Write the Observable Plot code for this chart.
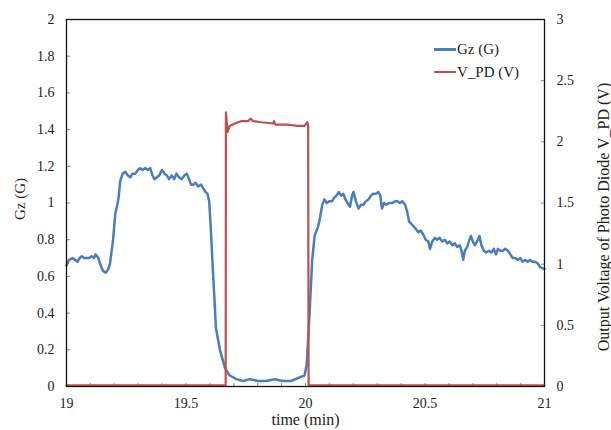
<!DOCTYPE html>
<html>
<head>
<meta charset="utf-8">
<script src="https://cdn.jsdelivr.net/npm/d3@7"></script>
<script src="https://cdn.jsdelivr.net/npm/@observablehq/plot@0.6"></script>
<style>
  body { margin: 0; background: white; }
  #wrap { position: relative; width: 611px; height: 430px; font-family: "Liberation Serif", serif; }
  #legend { position: absolute; left: 434px; top: 38px; font-size: 15px; color: #222; line-height: 22.5px; }
  #legend .item { display: flex; align-items: center; }
  #legend .sw { display: inline-block; width: 22px; height: 2.5px; margin-right: 1px; }
</style>
</head>
<body>
<div id="wrap"></div>
<script>
// Gz (G) series
const gzTime = [19.000,19.011,19.025,19.036,19.046,19.055,19.064,19.074,19.083,19.095,19.105,19.115,19.122,19.133,19.143,19.153,19.164,19.175,19.182,19.189,19.195,19.204,19.214,19.218,19.225,19.235,19.246,19.257,19.267,19.276,19.288,19.299,19.308,19.318,19.329,19.340,19.350,19.360,19.368,19.378,19.388,19.399,19.410,19.420,19.429,19.440,19.451,19.460,19.471,19.482,19.493,19.503,19.513,19.521,19.530,19.540,19.551,19.563,19.572,19.582,19.590,19.597,19.603,19.611,19.621,19.625,19.642,19.663,19.683,19.711,19.739,19.767,19.801,19.836,19.871,19.905,19.940,19.975,19.996,20.005,20.017,20.028,20.038,20.052,20.058,20.070,20.079,20.089,20.100,20.111,20.121,20.130,20.139,20.149,20.158,20.167,20.176,20.186,20.195,20.201,20.211,20.222,20.232,20.242,20.253,20.264,20.274,20.283,20.295,20.305,20.313,20.320,20.329,20.339,20.350,20.364,20.375,20.385,20.395,20.405,20.417,20.426,20.433,20.447,20.461,20.472,20.482,20.492,20.503,20.514,20.521,20.530,20.542,20.551,20.561,20.572,20.583,20.593,20.603,20.614,20.625,20.635,20.645,20.653,20.660,20.667,20.676,20.686,20.692,20.700,20.708,20.718,20.728,20.736,20.746,20.755,20.767,20.778,20.788,20.797,20.805,20.815,20.825,20.836,20.847,20.857,20.867,20.878,20.889,20.899,20.908,20.920,20.930,20.940,20.950,20.961,20.972,20.982,21.000];
const gzValue = [0.66,0.69,0.70,0.69,0.68,0.70,0.71,0.70,0.70,0.70,0.71,0.70,0.72,0.70,0.66,0.63,0.62,0.64,0.67,0.74,0.80,0.94,1.00,1.03,1.12,1.16,1.17,1.15,1.14,1.16,1.16,1.18,1.19,1.18,1.19,1.18,1.19,1.15,1.13,1.14,1.15,1.18,1.16,1.15,1.13,1.15,1.13,1.16,1.14,1.13,1.15,1.16,1.13,1.10,1.10,1.11,1.09,1.10,1.08,1.06,1.05,1.01,0.88,0.67,0.43,0.32,0.20,0.10,0.06,0.04,0.03,0.04,0.03,0.03,0.04,0.03,0.03,0.05,0.06,0.12,0.40,0.69,0.82,0.87,0.90,0.99,1.02,1.00,1.01,1.01,1.03,1.04,1.06,1.04,1.05,1.02,1.00,0.98,1.04,1.06,1.01,0.97,0.99,0.99,1.01,1.02,1.04,1.05,1.05,1.06,1.04,0.97,1.00,0.99,1.00,1.00,1.01,1.01,1.00,1.01,0.99,0.95,0.90,0.88,0.86,0.84,0.85,0.83,0.80,0.79,0.75,0.79,0.81,0.80,0.81,0.79,0.80,0.78,0.79,0.77,0.78,0.76,0.77,0.74,0.69,0.74,0.76,0.80,0.82,0.79,0.77,0.79,0.82,0.77,0.74,0.73,0.74,0.73,0.75,0.72,0.75,0.74,0.74,0.75,0.74,0.72,0.70,0.70,0.69,0.70,0.68,0.69,0.68,0.69,0.68,0.68,0.67,0.65,0.64];

// V_PD (V) series
const vTime = [19.000,19.666,19.667,19.674,19.683,19.704,19.732,19.760,19.771,19.780,19.815,19.864,19.868,19.874,19.926,19.968,19.996,20.007,20.011,20.013,21.000];
const vValue = [0.01,0.01,2.24,2.08,2.13,2.15,2.17,2.17,2.19,2.17,2.16,2.15,2.17,2.14,2.14,2.13,2.13,2.16,2.14,0.01,0.01];

// axes
const xTicks = [19, 19.5, 20, 20.5, 21];
const xMinorTicks = d3.range(190, 211).map(d => d / 10);
const gzTicks = [0, 0.2, 0.4, 0.6, 0.8, 1, 1.2, 1.4, 1.6, 1.8, 2];
const vTicks = [0, 0.5, 1, 1.5, 2, 2.5, 3];
const gzMax = 2, vMax = 3;
const ratio = gzMax / vMax; // secondary axis mapped onto primary

const gz = gzTime.map((t, i) => ({t, v: gzValue[i]}));
const vpd = vTime.map((t, i) => ({t, v: vValue[i] * ratio}));

const fmt = d => String(+(+d).toFixed(3));
const ink = "#222";
const font = "Liberation Serif";

const chart = Plot.plot({
  width: 611, height: 430,
  marginLeft: 66, marginRight: 67, marginTop: 19, marginBottom: 44,
  style: {fontFamily: font, background: "white", color: ink},
  x: {domain: [19, 21]},
  y: {domain: [0, gzMax]},
  marks: [
    // inward ticks
    Plot.axisX(xMinorTicks, {tickSize: -3, text: null, label: null, stroke: "#888"}),
    Plot.axisY(gzTicks, {tickSize: -4, text: null, label: null, stroke: "#888"}),
    Plot.axisY(vTicks.map(v => v * ratio), {anchor: "right", tickSize: -4, text: null, label: null, stroke: "#888"}),
    // tick labels
    Plot.axisX(xTicks, {tickSize: 0, tickPadding: 12, tickFormat: fmt, label: null, fontSize: 14}),
    Plot.axisY(gzTicks, {tickSize: 0, tickPadding: 12, tickFormat: fmt, label: null, fontSize: 14}),
    Plot.axisY(vTicks.map(v => v * ratio), {anchor: "right", tickSize: 0, tickPadding: 12, tickFormat: d => fmt(d / ratio), label: null, fontSize: 14}),
    // data
    Plot.line(gz, {x: "t", y: "v", stroke: "#4a7ebb", strokeWidth: 2.5}),
    Plot.line(vpd, {x: "t", y: "v", stroke: "#c0504d", strokeWidth: 2.2}),
    Plot.frame({stroke: "#111", strokeWidth: 1.3}),
    // axis titles
    Plot.text(["Gz (G)"], {frameAnchor: "left", dx: -46, dy: -4, rotate: -90, textAnchor: "middle", lineAnchor: "middle", fontSize: 15, fill: ink}),
    Plot.text(["Output Voltage of Photo Diode V_PD (V)"], {frameAnchor: "right", dx: 59, dy: 14, rotate: -90, textAnchor: "middle", lineAnchor: "middle", fontSize: 16, fill: ink, letterSpacing: "1.5px"}),
    Plot.text(["time (min)"], {frameAnchor: "bottom", dy: 33, textAnchor: "middle", lineAnchor: "middle", fontSize: 16, fill: ink, letterSpacing: "0.8px"})
  ]
});

const wrap = document.getElementById("wrap");
wrap.appendChild(chart);

const legend = document.createElement("div");
legend.id = "legend";
[["Gz (G)", "#4a7ebb"], ["V_PD (V)", "#c0504d"]].forEach(([name, color]) => {
  const item = document.createElement("div");
  item.className = "item";
  const sw = document.createElement("span");
  sw.className = "sw";
  sw.style.background = color;
  item.appendChild(sw);
  item.appendChild(document.createTextNode(name));
  legend.appendChild(item);
});
wrap.appendChild(legend);
</script>
</body>
</html>
